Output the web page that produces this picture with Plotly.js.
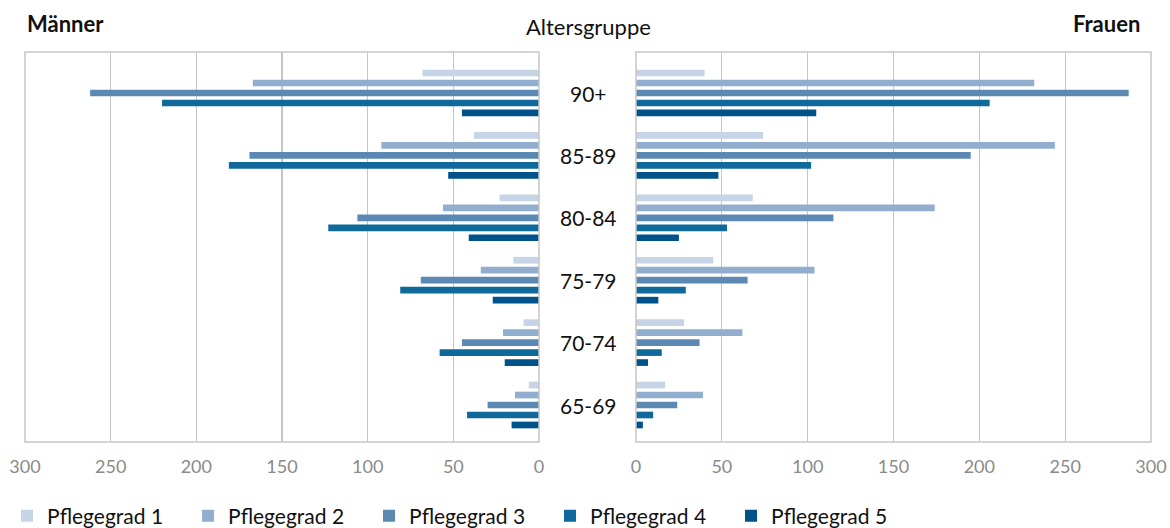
<!DOCTYPE html>
<html><head><meta charset="utf-8">
<script src="https://cdn.plot.ly/plotly-3.0.1.min.js"></script>
<style>html,body{margin:0;padding:0;background:#fff}#chart{width:1170px;height:528px}</style>
</head><body><div id="chart"></div>
<script>
const ageGroups = ['90+','85-89','80-84','75-79','70-74','65-69'];
const seriesNames = ['Pflegegrad 1','Pflegegrad 2','Pflegegrad 3','Pflegegrad 4','Pflegegrad 5'];
const colors = ['#c7d4e6','#92aece','#5b89b4','#0f6a9b','#00538a'];
const men_pg1 = [68, 38, 23, 15, 9, 6];
const men_pg2 = [167, 92, 56, 34, 21, 14];
const men_pg3 = [262, 169, 106, 69, 45, 30];
const men_pg4 = [220, 181, 123, 81, 58, 42];
const men_pg5 = [45, 53, 41, 27, 20, 16];
const women_pg1 = [40, 74, 68, 45, 28, 17];
const women_pg2 = [232, 244, 174, 104, 62, 39];
const women_pg3 = [287, 195, 115, 65, 37, 24];
const women_pg4 = [206, 102, 53, 29, 15, 10];
const women_pg5 = [105, 48, 25, 13, 7, 4];
const xTicks = [0,50,100,150,200,250,300];

const men = [men_pg1, men_pg2, men_pg3, men_pg4, men_pg5];
const women = [women_pg1, women_pg2, women_pg3, women_pg4, women_pg5];
const FONT = 'Lato, "Open Sans", sans-serif';
const traces = [];
men.forEach((vals,i)=>traces.push({type:'bar',orientation:'h',x:vals,y:ageGroups,name:seriesNames[i],
  marker:{color:colors[i]},xaxis:'x',yaxis:'y',legendgroup:'g'+i,showlegend:true,hoverinfo:'x+name'}));
women.forEach((vals,i)=>traces.push({type:'bar',orientation:'h',x:vals,y:ageGroups,name:seriesNames[i],
  marker:{color:colors[i]},xaxis:'x2',yaxis:'y',legendgroup:'g'+i,showlegend:false,hoverinfo:'x+name'}));

const gridColor = '#c6c6c6';
const axisCommon = {tickvals:xTicks, ticktext:xTicks.map(String), showgrid:true, gridcolor:gridColor, gridwidth:1.2,
  zeroline:false, showline:false, ticks:'', ticklabelstandoff:12,
  tickfont:{family:FONT,size:18,color:'#8a8a8a'}, fixedrange:true};
const labelAnn = ageGroups.map(g=>({text:g, x:0.5026, xref:'paper', y:g, yref:'y', showarrow:false,
  xanchor:'center', yanchor:'middle', font:{family:FONT,size:21,color:'#111'}}));
const layout = {
  width:1170, height:528,
  margin:{l:0,r:0,t:52,b:86,autoexpand:false},
  paper_bgcolor:'#fff', plot_bgcolor:'rgba(0,0,0,0)',
  barmode:'group', bargap:0.2, bargroupgap:0.33,
  xaxis:Object.assign({domain:[25/1170, 539/1170], range:[300,0], anchor:'y'}, axisCommon),
  xaxis2:Object.assign({domain:[636/1170, 1151/1170], range:[0,300], anchor:'y'}, axisCommon),
  yaxis:{type:'category', categoryorder:'array', categoryarray:ageGroups, range:[5.593,-0.657],
    showticklabels:false, showgrid:false, zeroline:false, showline:false, ticks:'', fixedrange:true},
  showlegend:true,
  legend:{orientation:'h', x:0.006, xanchor:'left', y:-0.19, yanchor:'middle',
    font:{family:FONT,size:21,color:'#111'}, entrywidth:136, entrywidthmode:'pixels', traceorder:'normal',
    itemwidth:30},
  shapes:[
    {type:'rect', xref:'paper', yref:'paper', x0:25/1170, x1:539/1170, y0:0, y1:1, line:{color:gridColor,width:1.5}},
    {type:'rect', xref:'paper', yref:'paper', x0:636/1170, x1:1151/1170, y0:0, y1:1, line:{color:gridColor,width:1.5}}
  ],
  annotations:[
    {text:'<b>Männer</b>', x:25/1170, xref:'paper', xanchor:'left', y:1.072, yref:'paper', yanchor:'middle',
      showarrow:false, font:{family:FONT,size:22,color:'#111'}},
    {text:'Altersgruppe', x:588/1170, xref:'paper', xanchor:'center', y:1.065, yref:'paper', yanchor:'middle',
      showarrow:false, font:{family:FONT,size:22,color:'#111'}},
    {text:'<b>Frauen</b>', x:1142/1170, xref:'paper', xanchor:'right', y:1.072, yref:'paper', yanchor:'middle',
      showarrow:false, font:{family:FONT,size:22,color:'#111'}}
  ].concat(labelAnn)
};
Plotly.newPlot('chart', traces, layout, {displayModeBar:false, staticPlot:true});
</script></body></html>
